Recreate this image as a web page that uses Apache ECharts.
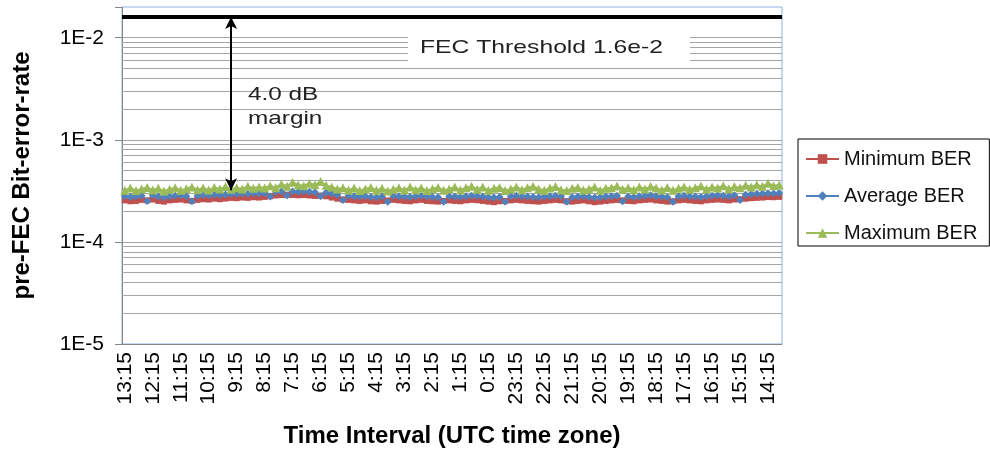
<!DOCTYPE html>
<html>
<head>
<meta charset="utf-8">
<script src="https://cdn.jsdelivr.net/npm/echarts@6/dist/echarts.min.js"></script>
<style>
  html, body { margin: 0; padding: 0; background: #fff; }
  #chart { width: 990px; height: 451px; }
</style>
</head>
<body>
<div id="chart"></div>
<script>
// time slots, newest first (12 minute steps)
var categories = [
  '13:15','13:03','12:51','12:39','12:27', '12:15','12:03','11:51','11:39','11:27',
  '11:15','11:03','10:51','10:39','10:27', '10:15','10:03','9:51','9:39','9:27',
  '9:15','9:03','8:51','8:39','8:27', '8:15','8:03','7:51','7:39','7:27',
  '7:15','7:03','6:51','6:39','6:27', '6:15','6:03','5:51','5:39','5:27',
  '5:15','5:03','4:51','4:39','4:27', '4:15','4:03','3:51','3:39','3:27',
  '3:15','3:03','2:51','2:39','2:27', '2:15','2:03','1:51','1:39','1:27',
  '1:15','1:03','0:51','0:39','0:27', '0:15','0:03','23:51','23:39','23:27',
  '23:15','23:03','22:51','22:39','22:27', '22:15','22:03','21:51','21:39','21:27',
  '21:15','21:03','20:51','20:39','20:27', '20:15','20:03','19:51','19:39','19:27',
  '19:15','19:03','18:51','18:39','18:27', '18:15','18:03','17:51','17:39','17:27',
  '17:15','17:03','16:51','16:39','16:27', '16:15','16:03','15:51','15:39','15:27',
  '15:15','15:03','14:51','14:39','14:27', '14:15','14:03','13:51'
];

var minBER = [
  2.55e-4,2.50e-4,2.52e-4,2.58e-4,2.55e-4,2.60e-4,2.52e-4,2.48e-4,2.55e-4,2.58e-4,
  2.60e-4,2.55e-4,2.52e-4,2.58e-4,2.62e-4,2.60e-4,2.65e-4,2.62e-4,2.66e-4,2.70e-4,
  2.68e-4,2.72e-4,2.70e-4,2.74e-4,2.72e-4,2.76e-4,2.80e-4,2.85e-4,2.88e-4,2.90e-4,
  2.88e-4,2.86e-4,2.88e-4,2.85e-4,2.82e-4,2.84e-4,2.80e-4,2.72e-4,2.65e-4,2.60e-4,
  2.58e-4,2.55e-4,2.52e-4,2.55e-4,2.50e-4,2.48e-4,2.52e-4,2.55e-4,2.58e-4,2.55e-4,
  2.52e-4,2.50e-4,2.55e-4,2.58e-4,2.52e-4,2.50e-4,2.48e-4,2.52e-4,2.55e-4,2.52e-4,
  2.50e-4,2.55e-4,2.58e-4,2.56e-4,2.52e-4,2.48e-4,2.45e-4,2.50e-4,2.52e-4,2.55e-4,
  2.58e-4,2.55e-4,2.52e-4,2.50e-4,2.48e-4,2.52e-4,2.55e-4,2.58e-4,2.55e-4,2.50e-4,
  2.48e-4,2.52e-4,2.55e-4,2.50e-4,2.45e-4,2.48e-4,2.52e-4,2.55e-4,2.58e-4,2.55e-4,
  2.52e-4,2.50e-4,2.55e-4,2.58e-4,2.60e-4,2.55e-4,2.52e-4,2.48e-4,2.50e-4,2.55e-4,
  2.58e-4,2.55e-4,2.52e-4,2.50e-4,2.55e-4,2.58e-4,2.60e-4,2.58e-4,2.55e-4,2.60e-4,
  2.62e-4,2.65e-4,2.68e-4,2.70e-4,2.72e-4,2.75e-4,2.74e-4,2.76e-4
];

var avgBER = [
  2.80e-4,2.76e-4,2.78e-4,2.84e-4,2.52e-4,2.86e-4,2.78e-4,2.74e-4,2.80e-4,2.84e-4,
  2.86e-4,2.80e-4,2.50e-4,2.84e-4,2.88e-4,2.86e-4,2.90e-4,2.88e-4,2.92e-4,2.95e-4,
  2.94e-4,2.98e-4,2.96e-4,3.00e-4,2.98e-4,3.02e-4,2.78e-4,3.10e-4,3.12e-4,2.85e-4,
  3.12e-4,3.10e-4,3.14e-4,3.10e-4,3.06e-4,2.80e-4,3.04e-4,2.98e-4,2.90e-4,2.58e-4,
  2.84e-4,2.80e-4,2.78e-4,2.80e-4,2.76e-4,2.74e-4,2.78e-4,2.48e-4,2.84e-4,2.80e-4,
  2.78e-4,2.76e-4,2.80e-4,2.84e-4,2.78e-4,2.76e-4,2.74e-4,2.48e-4,2.80e-4,2.78e-4,
  2.76e-4,2.80e-4,2.84e-4,2.82e-4,2.78e-4,2.74e-4,2.72e-4,2.76e-4,2.47e-4,2.80e-4,
  2.84e-4,2.80e-4,2.78e-4,2.76e-4,2.74e-4,2.78e-4,2.80e-4,2.84e-4,2.80e-4,2.48e-4,
  2.74e-4,2.78e-4,2.80e-4,2.76e-4,2.72e-4,2.74e-4,2.78e-4,2.80e-4,2.84e-4,2.50e-4,
  2.78e-4,2.76e-4,2.80e-4,2.84e-4,2.86e-4,2.80e-4,2.78e-4,2.74e-4,2.48e-4,2.80e-4,
  2.84e-4,2.80e-4,2.78e-4,2.76e-4,2.80e-4,2.84e-4,2.86e-4,2.84e-4,2.80e-4,2.86e-4,
  2.58e-4,2.90e-4,2.94e-4,2.96e-4,2.98e-4,3.00e-4,2.98e-4,3.02e-4
];

var maxBER = [
  3.20e-4,3.38e-4,3.18e-4,3.30e-4,3.42e-4,3.22e-4,3.35e-4,3.15e-4,3.28e-4,3.40e-4,
  3.20e-4,3.32e-4,3.45e-4,3.25e-4,3.38e-4,3.22e-4,3.42e-4,3.30e-4,3.48e-4,3.28e-4,
  3.40e-4,3.30e-4,3.50e-4,3.35e-4,3.45e-4,3.38e-4,3.55e-4,3.40e-4,3.70e-4,3.50e-4,
  3.85e-4,3.60e-4,3.55e-4,3.75e-4,3.62e-4,3.90e-4,3.58e-4,3.45e-4,3.30e-4,3.40e-4,
  3.22e-4,3.38e-4,3.18e-4,3.30e-4,3.42e-4,3.20e-4,3.35e-4,3.15e-4,3.28e-4,3.40e-4,
  3.22e-4,3.45e-4,3.25e-4,3.38e-4,3.18e-4,3.32e-4,3.42e-4,3.20e-4,3.30e-4,3.45e-4,
  3.22e-4,3.40e-4,3.50e-4,3.28e-4,3.45e-4,3.20e-4,3.35e-4,3.42e-4,3.18e-4,3.30e-4,
  3.45e-4,3.25e-4,3.40e-4,3.50e-4,3.30e-4,3.20e-4,3.38e-4,3.48e-4,3.25e-4,3.18e-4,
  3.35e-4,3.42e-4,3.22e-4,3.30e-4,3.45e-4,3.20e-4,3.35e-4,3.40e-4,3.52e-4,3.28e-4,
  3.40e-4,3.25e-4,3.45e-4,3.30e-4,3.50e-4,3.38e-4,3.22e-4,3.42e-4,3.20e-4,3.35e-4,
  3.45e-4,3.28e-4,3.40e-4,3.52e-4,3.30e-4,3.45e-4,3.38e-4,3.55e-4,3.32e-4,3.48e-4,
  3.40e-4,3.58e-4,3.45e-4,3.62e-4,3.50e-4,3.75e-4,3.55e-4,3.60e-4
];

var fecThreshold = 0.016;
var arrowSlot = '9:27';      // where the margin arrow sits
var arrowBottom = 3.2e-4;

var yTickValues = [1e-5, 1e-4, 1e-3, 1e-2];
var yTickLabels = ['1E-5', '1E-4', '1E-3', '1E-2'];
// excel style minor grid (2..9 per decade)
var minorGrid = [
  2e-5,3e-5,4e-5,5e-5,6e-5,7e-5,8e-5,9e-5,
  2e-4,3e-4,4e-4,5e-4,6e-4,7e-4,8e-4,9e-4,
  2e-3,3e-3,4e-3,5e-3,6e-3,7e-3,8e-3,9e-3
];

var FONT = '"Liberation Sans", Arial, sans-serif';
var gridGray = '#a6a6a6';

// full width horizontal line at a y value (infinite x = grid edge)
function hLine(v, style) {
  return [
    { coord: [-Infinity, v], symbol: 'none', lineStyle: style },
    { coord: [Infinity, v], symbol: 'none' }
  ];
}

var chart = echarts.init(document.getElementById('chart'));

chart.setOption({
  animation: false,
  backgroundColor: '#fff',
  textStyle: { fontFamily: FONT },
  grid: {
    left: 122, right: 208, top: 7, bottom: 107,
    outerBoundsMode: 'none',
    containLabel: false,
    show: true, borderColor: '#8db3e2', borderWidth: 1
  },
  legend: {
    orient: 'vertical',
    left: 798, top: 139,
    padding: [9, 12, 2, 7],
    itemWidth: 33, itemHeight: 12, itemGap: 15,
    borderColor: '#000', borderWidth: 1,
    textStyle: { fontSize: 20, color: '#111', fontFamily: FONT, lineHeight: 22 },
    data: ['Minimum BER', 'Average BER', 'Maximum BER']
  },
  xAxis: {
    type: 'category',
    data: categories,
    name: 'Time Interval (UTC time zone)',
    nameLocation: 'middle',
    nameGap: 80,
    nameTextStyle: { fontSize: 24, fontWeight: 'bold', color: '#000', fontFamily: FONT },
    axisLine: { lineStyle: { color: '#868686', width: 1 } },
    axisTick: { interval: 0, length: 5, lineStyle: { color: '#868686' } },
    axisLabel: { interval: 4, rotate: 90, fontSize: 21, color: '#000', margin: 8, fontFamily: FONT },
    splitLine: { show: false }
  },
  yAxis: {
    type: 'log',
    logBase: 10,
    min: 1e-5,
    max: 0.02,
    name: 'pre-FEC Bit-error-rate',
    nameLocation: 'middle',
    nameGap: 88,
    nameTextStyle: { fontSize: 24, fontWeight: 'bold', color: '#000', fontFamily: FONT },
    axisLine: { show: true, lineStyle: { color: '#868686', width: 1 } },
    axisTick: { show: true, length: 7, lineStyle: { color: '#868686' } },
    axisLabel: {
      fontSize: 21, color: '#000', margin: 18, fontFamily: FONT,
      formatter: function (v) {
        for (var k = 0; k < yTickValues.length; k++) {
          if (Math.abs(yTickValues[k] - v) / yTickValues[k] < 1e-6) return yTickLabels[k];
        }
        return '';
      }
    },
    splitLine: { show: true, showMaxLine: false, lineStyle: { color: gridGray, width: 1 } }
  },
  series: [
    {
      name: 'Minimum BER',
      type: 'line',
      data: minBER,
      symbol: 'rect',
      symbolSize: 6,
      showAllSymbol: true,
      color: '#c0504d',
      lineStyle: { width: 2 },
      markLine: {
        silent: true,
        z: 1,
        symbol: 'none',
        label: { show: false },
        data: minorGrid.map(function (v) {
          return hLine(v, { color: gridGray, width: 1, type: 'solid' });
        })
      }
    },
    {
      name: 'Average BER',
      type: 'line',
      data: avgBER,
      symbol: 'diamond',
      symbolSize: 8,
      showAllSymbol: true,
      color: '#4f81bd',
      lineStyle: { width: 2 }
    },
    {
      name: 'Maximum BER',
      type: 'line',
      data: maxBER,
      symbol: 'triangle',
      symbolSize: 9,
      showAllSymbol: true,
      color: '#9bbb59',
      lineStyle: { width: 2 },
      markLine: {
        silent: true,
        symbol: 'none',
        label: { show: false },
        data: [
          hLine(fecThreshold, { color: '#000', width: 4, type: 'solid' }),
          [
            { coord: [arrowSlot, fecThreshold], symbol: 'arrow', symbolSize: [9, 12],
              lineStyle: { color: '#000', width: 2, type: 'solid' } },
            { coord: [arrowSlot, arrowBottom], symbol: 'arrow', symbolSize: [9, 12] }
          ]
        ]
      }
    }
  ],
  graphic: [
    {
      type: 'rect', z: 100,
      shape: { x: 408, y: 33, width: 282, height: 33 },
      style: { fill: '#fff' }
    },
    {
      type: 'text', z: 101,
      x: 420, y: 48, scaleX: 1.3, scaleY: 1,
      style: { text: 'FEC Threshold 1.6e-2', font: '19px ' + FONT, fill: '#222', verticalAlign: 'middle' }
    },
    {
      type: 'text', z: 101,
      x: 248, y: 95, scaleX: 1.28, scaleY: 1,
      style: { text: '4.0 dB', font: '19px ' + FONT, fill: '#222', verticalAlign: 'middle' }
    },
    {
      type: 'text', z: 101,
      x: 248, y: 119, scaleX: 1.28, scaleY: 1,
      style: { text: 'margin', font: '19px ' + FONT, fill: '#222', verticalAlign: 'middle' }
    }
  ]
});
</script>
</body>
</html>
